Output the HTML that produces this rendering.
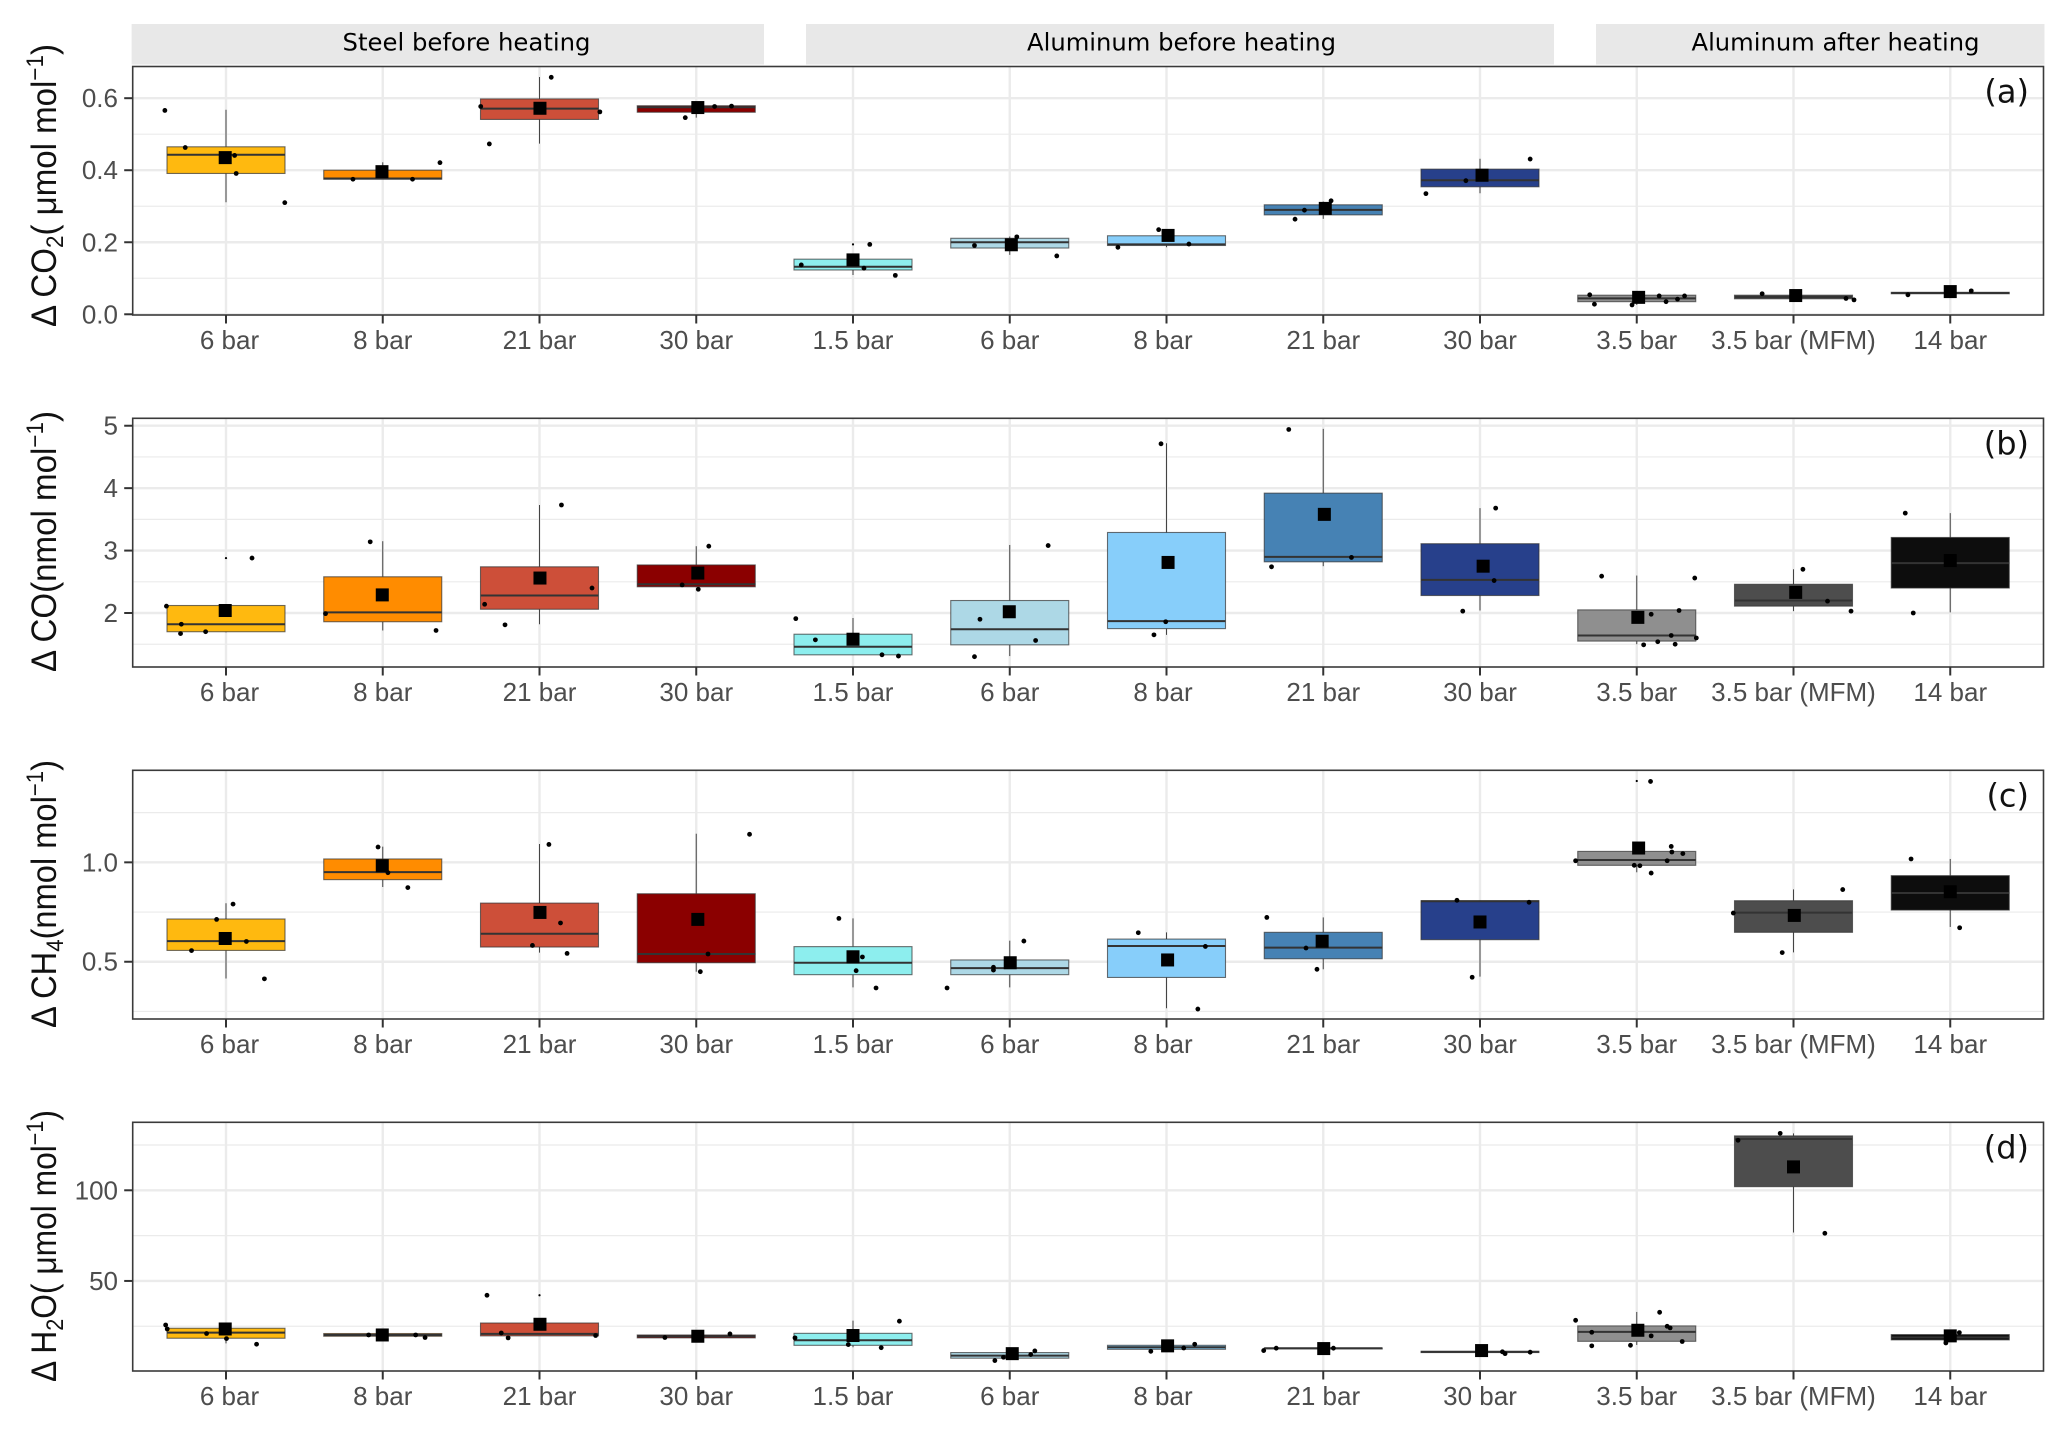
<!DOCTYPE html>
<html lang="en">
<head>
<meta charset="utf-8">
<title>Box plots of impurity increase by regulator pressure</title>
<style>
html,body{margin:0;padding:0;background:#fff;width:2068px;height:1434px;overflow:hidden}
svg{display:block}
text{font-family:"Liberation Sans",Arial,sans-serif}
</style>
</head>
<body>
<svg id="chart" xmlns="http://www.w3.org/2000/svg" width="2068" height="1434" viewBox="0 0 2068 1434"></svg>
<script>
const categories = ["6 bar","8 bar","21 bar","30 bar","1.5 bar","6 bar","8 bar","21 bar","30 bar","3.5 bar","3.5 bar (MFM)","14 bar"];
const boxColors = ["#FFB90F","#FF8C00","#CD4F39","#8B0000","#8DEEEE","#ADD8E6","#87CEFA","#4682B4","#27408B","#8F8F8F","#4D4D4D","#0D0D0D"];
const groupLabels = ["Steel before heating","Aluminum before heating","Aluminum after heating"];

/* Panel (a) CO2, umol/mol */
const aQ1 = [0.391,0.375,0.541,0.561,0.123,0.184,0.191,0.276,0.354,0.035,0.043,0.057];
const aMedian = [0.443,0.377,0.571,0.575,0.132,0.200,0.194,0.290,0.372,0.044,0.048,0.059];
const aQ3 = [0.465,0.400,0.598,0.579,0.153,0.211,0.218,0.304,0.403,0.053,0.053,0.061];
const aLow = [0.311,0.375,0.474,0.546,0.109,0.165,0.186,0.265,0.336,0.026,0.040,0.054];
const aHigh = [0.568,0.422,0.659,0.579,0.153,0.216,0.234,0.313,0.432,0.054,0.057,0.065];
const aMean = [0.435,0.396,0.572,0.574,0.151,0.193,0.219,0.294,0.386,0.047,0.052,0.063];
const aMeanJitter = [-0.005,-0.005,0.003,0.01,0,0.01,0.01,0.013,0.013,0.012,0.014,0];
const aPoints = [[0,-0.39,0.566],[0,-0.26,0.463],[0,0.055,0.441],[0,0.065,0.391],[0,0.375,0.310],
[1,-0.19,0.375],[1,0.19,0.375],[1,0.365,0.421],
[2,-0.375,0.577],[2,-0.32,0.473],[2,0.075,0.658],[2,0.385,0.562],
[3,-0.07,0.546],[3,0.117,0.577],[3,0.225,0.578],
[4,-0.33,0.137],[4,0.07,0.128],[4,0.107,0.194],[4,0.27,0.108],
[5,-0.225,0.191],[5,0.045,0.215],[5,0.30,0.162],
[6,-0.31,0.186],[6,-0.05,0.235],[6,0.143,0.195],
[7,-0.18,0.264],[7,-0.12,0.289],[7,0.05,0.315],
[8,-0.345,0.335],[8,-0.09,0.371],[8,0.32,0.431],
[9,-0.30,0.054],[9,-0.27,0.028],[9,-0.03,0.026],[9,0.143,0.051],[9,0.187,0.035],[9,0.26,0.042],[9,0.305,0.051],
[10,-0.2,0.057],[10,0.335,0.044],[10,0.386,0.040],
[11,-0.27,0.054],[11,0.134,0.065]];
const aOutliers = [[4,0.194]];

/* Panel (b) CO, nmol/mol */
const bQ1 = [1.70,1.86,2.06,2.42,1.33,1.49,1.75,2.82,2.28,1.55,2.11,2.40];
const bMedian = [1.82,2.01,2.28,2.46,1.46,1.74,1.87,2.90,2.53,1.64,2.20,2.80];
const bQ3 = [2.12,2.58,2.74,2.77,1.66,2.20,3.29,3.92,3.11,2.05,2.46,3.21];
const bLow = [1.69,1.72,1.82,2.42,1.33,1.31,1.65,2.75,2.04,1.50,2.03,2.01];
const bHigh = [2.12,3.15,3.73,3.07,1.92,3.09,4.72,4.95,3.68,2.60,2.70,3.60];
const bMean = [2.04,2.29,2.56,2.64,1.58,2.02,2.81,3.58,2.75,1.93,2.33,2.84];
const bMeanJitter = [-0.005,-0.003,0.003,0.01,0,-0.003,0.01,0.007,0.02,0.007,0.014,0];
const bPoints = [[0,-0.38,2.11],[0,-0.29,1.67],[0,-0.285,1.82],[0,-0.13,1.70],[0,0.166,2.88],
[1,-0.365,1.99],[1,-0.08,3.14],[1,0.34,1.72],
[2,-0.35,2.14],[2,-0.22,1.81],[2,0.14,3.73],[2,0.335,2.40],
[3,-0.09,2.45],[3,0.013,2.38],[3,0.08,3.07],
[4,-0.365,1.91],[4,-0.24,1.57],[4,0.185,1.33],[4,0.29,1.31],
[5,-0.225,1.30],[5,-0.19,1.90],[5,0.165,1.56],[5,0.245,3.08],
[6,-0.08,1.65],[6,-0.035,4.71],[6,-0.005,1.86],
[7,-0.33,2.74],[7,-0.22,4.94],[7,0.18,2.89],
[8,-0.11,2.03],[8,0.09,2.52],[8,0.10,3.68],
[9,-0.224,2.59],[9,0.044,1.49],[9,0.092,1.98],[9,0.134,1.54],[9,0.22,1.64],[9,0.245,1.50],[9,0.27,2.04],[9,0.37,2.56],[9,0.38,1.60],
[10,0.06,2.70],[10,0.217,2.19],[10,0.367,2.03],
[11,-0.287,3.60],[11,-0.236,2.00]];
const bOutliers = [[0,2.88]];

/* Panel (c) CH4, nmol/mol */
const cQ1 = [0.557,0.913,0.574,0.495,0.435,0.435,0.421,0.515,0.611,0.985,0.648,0.760];
const cMedian = [0.604,0.951,0.641,0.539,0.495,0.468,0.579,0.571,0.804,1.012,0.747,0.846];
const cQ3 = [0.715,1.017,0.795,0.842,0.576,0.509,0.614,0.648,0.807,1.055,0.807,0.933];
const cLow = [0.416,0.876,0.546,0.450,0.371,0.371,0.266,0.462,0.425,0.950,0.547,0.675];
const cHigh = [0.794,1.079,1.092,1.144,0.718,0.606,0.648,0.723,0.807,1.055,0.864,1.017];
const cMean = [0.617,0.983,0.748,0.713,0.525,0.495,0.509,0.603,0.700,1.072,0.733,0.852];
const cMeanJitter = [-0.005,-0.003,0.003,0.01,0,0.003,0.007,-0.007,0,0.012,0.005,0];
const cPoints = [[0,-0.22,0.556],[0,-0.06,0.713],[0,0.045,0.790],[0,0.13,0.602],[0,0.245,0.414],
[1,-0.03,1.077],[1,0.033,0.948],[1,0.16,0.873],
[2,-0.045,0.582],[2,0.06,1.09],[2,0.134,0.695],[2,0.176,0.542],
[3,0.026,0.45],[3,0.075,0.539],[3,0.34,1.141],
[4,-0.09,0.718],[4,0.02,0.455],[4,0.06,0.524],[4,0.147,0.368],
[5,-0.40,0.368],[5,-0.104,0.472],[5,-0.104,0.458],[5,0.09,0.604],
[6,-0.18,0.646],[6,0.2,0.262],[6,0.248,0.577],
[7,-0.36,0.723],[7,-0.11,0.569],[7,-0.04,0.462],
[8,-0.147,0.809],[8,-0.05,0.422],[8,0.313,0.799],
[9,-0.39,1.008],[9,-0.016,0.985],[9,0.02,0.983],[9,0.088,1.407],[9,0.092,0.946],[9,0.194,1.008],[9,0.22,1.08],[9,0.224,1.052],[9,0.294,1.044],
[10,-0.384,0.745],[10,-0.072,0.546],[10,0.314,0.863],
[11,-0.25,1.017],[11,0.06,0.671]];
const cOutliers = [[9,1.409]];

/* Panel (d) H2O, umol/mol */
const dQ1 = [18.4,19.5,19.7,18.6,14.5,7.4,12.3,12.5,10.5,16.7,102,17.5];
const dMedian = [21.5,20.2,20.8,19.5,17.3,8.8,13.4,12.9,10.9,21.9,128.3,18.9];
const dQ3 = [23.9,21,26.8,20.2,21.1,10.5,14.5,13,11.2,25.2,130,20.4];
const dLow = [15.6,19.5,19.7,18.6,13.4,7.4,12.3,12.5,10.5,14.7,76.7,17.5];
const dHigh = [23.9,21,26.8,20.2,28.1,10.5,14.5,13,11.2,32.9,131.4,20.4];
const dMean = [23.5,20.2,26.1,19.5,19.9,9.9,14.2,12.7,11.6,22.8,112.9,19.7];
const dMeanJitter = [-0.005,-0.003,0.003,0.01,0,0.016,0.007,0.003,0.01,0.007,0,0];
const dPoints = [[0,-0.385,25.7],[0,-0.375,23.5],[0,-0.124,21],[0,0.003,18.2],[0,0.195,15.1],
[1,-0.09,20.2],[1,0.21,20.2],[1,0.27,18.8],
[2,-0.335,42.1],[2,-0.244,21.3],[2,-0.2,18.6],[2,0.358,19.9],
[3,-0.2,18.8],[3,0.215,20.8],
[4,-0.37,18.6],[4,-0.03,14.9],[4,0.18,13.2],[4,0.296,27.8],
[5,-0.095,6.1],[5,-0.04,7.9],[5,0.134,9.4],[5,0.16,11.4],
[6,-0.1,11.2],[6,0.11,13],[6,0.18,15.1],
[7,-0.38,11.6],[7,-0.3,12.9],[7,0.065,12.9],
[8,0.143,10.9],[8,0.16,9.9],[8,0.32,10.7],
[9,-0.39,28.3],[9,-0.287,21.7],[9,-0.287,14.2],[9,-0.04,14.5],[9,0.092,19.7],[9,0.146,32.7],[9,0.194,25],[9,0.213,24.1],[9,0.29,16.6],
[10,-0.354,127.6],[10,-0.085,131.4],[10,0.2,76.3],
[11,-0.028,15.8],[11,0.058,21.5]];
const dOutliers = [[2,42.1]];

/* Axis tick values */
const aMajorTicks = [0,0.2,0.4,0.6];
const aMinorTicks = [0.1,0.3,0.5];
const aTickLabels = ["0.0","0.2","0.4","0.6"];
const bMajorTicks = [2,3,4,5];
const bMinorTicks = [1.5,2.5,3.5,4.5];
const bTickLabels = ["2","3","4","5"];
const cMajorTicks = [0.5,1.0];
const cMinorTicks = [0.25,0.75,1.25];
const cTickLabels = ["0.5","1.0"];
const dMajorTicks = [50,100];
const dMinorTicks = [25,75,125];
const dTickLabels = ["50","100"];

const NS = "http://www.w3.org/2000/svg";
const svg = document.getElementById("chart");
const LEFT = 132.7, RIGHT = 2043.5;
const xScale = (c) => 226 + 156.75 * c;
const BOX_HALF = 59;

function mk(tag, parent, attrs) {
  const e = document.createElementNS(NS, tag);
  for (const k in attrs) e.setAttribute(k, attrs[k]);
  parent.appendChild(e);
  return e;
}

/* Facet strips */
const stripRects = [[131.6,764],[806,1554],[1596,2044.5]];
const stripCentres = [466.5,1181.5,1835.5];
const stripTextWidths = [248,309,288];
groupLabels.forEach((label, i) => {
  const r = mk("rect", svg, {x:stripRects[i][0], y:24, width:stripRects[i][1]-stripRects[i][0], height:40.5, fill:"#e8e8e8"});
  
  
  const t = mk("text", svg, {x:stripCentres[i], y:50.7, "text-anchor":"middle", "font-size":24, fill:"#000", textLength:stripTextWidths[i], lengthAdjust:"spacingAndGlyphs"});
  t.style.fontFamily = '"DejaVu Sans",sans-serif';
  t.textContent = label;
  
  
});

function drawPanel(p) {
  const g = mk("g", svg, {});
  
  
  const yScale = (v) => p.bottom - (v - p.domain[0]) / (p.domain[1] - p.domain[0]) * (p.bottom - p.top);

  p.minor.forEach((v) => {
    const l = mk("line", g, {x1:LEFT, x2:RIGHT, y1:yScale(v), y2:yScale(v), stroke:"#ebebeb", "stroke-width":1.2});
    
    
  });
  p.major.forEach((v) => {
    const l = mk("line", g, {x1:LEFT, x2:RIGHT, y1:yScale(v), y2:yScale(v), stroke:"#ebebeb", "stroke-width":2.4});
    
    
  });
  categories.forEach((c, i) => {
    const l = mk("line", g, {x1:xScale(i), x2:xScale(i), y1:p.top, y2:p.bottom, stroke:"#ebebeb", "stroke-width":2.4});
    
    
  });

  categories.forEach((c, i) => {
    const cx = xScale(i);
    const hi = mk("line", g, {x1:cx, x2:cx, y1:yScale(p.high[i]), y2:yScale(p.q3[i]), stroke:"#444", "stroke-width":1});
    
    
    const lo = mk("line", g, {x1:cx, x2:cx, y1:yScale(p.q1[i]), y2:yScale(p.low[i]), stroke:"#444", "stroke-width":1});
    
    
    const b = mk("rect", g, {x:cx-BOX_HALF, y:yScale(p.q3[i]), width:BOX_HALF*2, height:Math.max(0.5, yScale(p.q1[i])-yScale(p.q3[i])), fill:boxColors[i], stroke:"#333", "stroke-opacity":0.7, "stroke-width":1.1});
    
    
    const m = mk("line", g, {x1:cx-BOX_HALF, x2:cx+BOX_HALF, y1:yScale(p.median[i]), y2:yScale(p.median[i]), stroke:"#333", "stroke-width":2});
    
    
  });

  p.outliers.forEach((o) => {
    const d = mk("circle", g, {cx:xScale(o[0]), cy:yScale(o[1]), r:1.1, fill:"#000"});
    
    
  });
  p.points.forEach((o) => {
    const d = mk("circle", g, {cx:xScale(o[0]+o[1]), cy:yScale(o[2]), r:2.4, fill:"#000"});
    
    
  });
  p.mean.forEach((v, i) => {
    const s = mk("rect", g, {x:xScale(i+p.meanJitter[i])-6.5, y:yScale(v)-6.5, width:13, height:13, fill:"#000"});
    
    
  });

  const frame = mk("rect", g, {x:LEFT, y:p.top, width:RIGHT-LEFT, height:p.bottom-p.top, fill:"none", stroke:"#3a3a3a", "stroke-width":1.6});
  
  

  p.major.forEach((v, i) => {
    const t = mk("line", g, {x1:LEFT-8.5, x2:LEFT, y1:yScale(v), y2:yScale(v), stroke:"#333", "stroke-width":2});
    
    
    const lab = mk("text", g, {x:118, y:yScale(v)+9, "text-anchor":"end", "font-size":26, fill:"#4d4d4d"});
    lab.textContent = p.tickLabels[i];
    
    
  });
  categories.forEach((c, i) => {
    const t = mk("line", g, {x1:xScale(i), x2:xScale(i), y1:p.bottom, y2:p.bottom+8.5, stroke:"#333", "stroke-width":2});
    
    
    const nudge = i === 0 ? 3.5 : (i === 6 ? -3.5 : 0);
    const lab = mk("text", g, {x:xScale(i)+nudge, y:p.bottom+34, "text-anchor":"middle", "font-size":26, fill:"#4d4d4d"});
    lab.textContent = c;
    
    
  });

  const letter = mk("text", g, {x:2029, y:p.top+36, "text-anchor":"end", "font-size":32, fill:"#111"});
  letter.style.fontFamily = '"DejaVu Sans",sans-serif';
  letter.textContent = "(" + p.tag + ")";
  
  

  const title = mk("text", g, {transform:"translate(56 " + p.titleBottom + ") rotate(-90)", x:0, y:0, "font-size":p.titleSize, fill:"#111", textLength:p.titleLength, lengthAdjust:"spacingAndGlyphs"});
  
  
  p.title.forEach((part) => {
    const s = mk("tspan", title, {});
    if (part[1] === "sub") { s.setAttribute("dy", 7); s.setAttribute("font-size", p.titleSize*0.68); }
    if (part[1] === "sup") { s.setAttribute("dy", -13); s.setAttribute("font-size", p.titleSize*0.68); }
    if (part[1] === "back-up") s.setAttribute("dy", -7);
    if (part[1] === "back-down") s.setAttribute("dy", 13);
    s.textContent = part[0];
  });
}

drawPanel({tag:"a", top:66.5, bottom:315, domain:[-0.002,0.688], major:aMajorTicks, minor:aMinorTicks, tickLabels:aTickLabels,
  q1:aQ1, median:aMedian, q3:aQ3, low:aLow, high:aHigh, mean:aMean, meanJitter:aMeanJitter, points:aPoints, outliers:aOutliers,
  titleBottom:327, titleLength:283, titleSize:35, title:[["\u0394 CO"],["2","sub"],["( \u03bcmol mol","back-up"],["\u22121","sup"],[")","back-down"]]});
drawPanel({tag:"b", top:418.3, bottom:667, domain:[1.135,5.119], major:bMajorTicks, minor:bMinorTicks, tickLabels:bTickLabels,
  q1:bQ1, median:bMedian, q3:bQ3, low:bLow, high:bHigh, mean:bMean, meanJitter:bMeanJitter, points:bPoints, outliers:bOutliers,
  titleBottom:672, titleLength:261, titleSize:35, title:[["\u0394 CO(nmol mol"],["\u22121","sup"],[")","back-down"]]});
drawPanel({tag:"c", top:770.3, bottom:1019, domain:[0.212,1.463], major:cMajorTicks, minor:cMinorTicks, tickLabels:cTickLabels,
  q1:cQ1, median:cMedian, q3:cQ3, low:cLow, high:cHigh, mean:cMean, meanJitter:cMeanJitter, points:cPoints, outliers:cOutliers,
  titleBottom:1028, titleLength:268, titleSize:35, title:[["\u0394 CH"],["4","sub"],["(nmol mol","back-up"],["\u22121","sup"],[")","back-down"]]});
drawPanel({tag:"d", top:1122.3, bottom:1371, domain:[0.33,137.5], major:dMajorTicks, minor:dMinorTicks, tickLabels:dTickLabels,
  q1:dQ1, median:dMedian, q3:dQ3, low:dLow, high:dHigh, mean:dMean, meanJitter:dMeanJitter, points:dPoints, outliers:dOutliers,
  titleBottom:1382, titleLength:272, titleSize:35, title:[["\u0394 H"],["2","sub"],["O( \u03bcmol mol","back-up"],["\u22121","sup"],[")","back-down"]]});
</script>
</body>
</html>
